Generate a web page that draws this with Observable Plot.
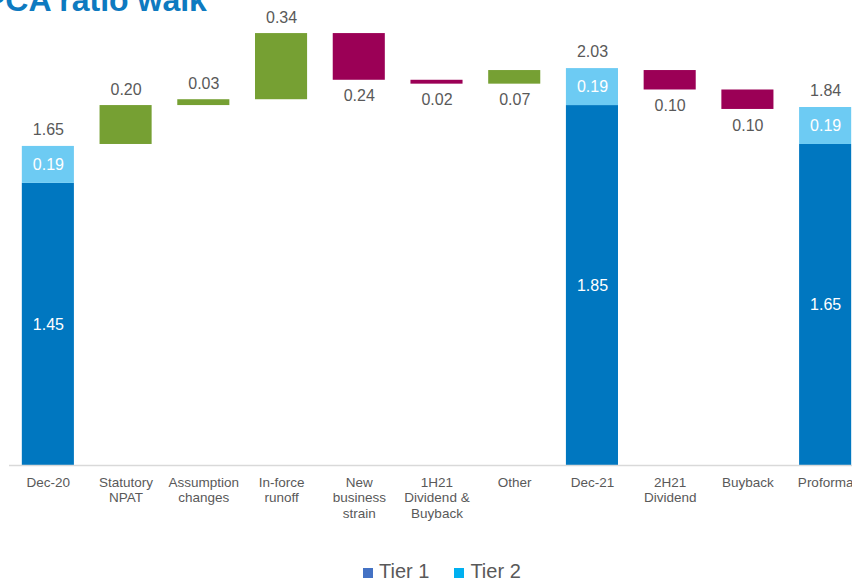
<!DOCTYPE html>
<html><head><meta charset="utf-8">
<script src="https://cdn.jsdelivr.net/npm/d3@7"></script>
<script src="https://cdn.jsdelivr.net/npm/@observablehq/plot@0.6"></script>
<style>
html,body{margin:0;padding:0;background:#fff;overflow:hidden;width:852px;height:583px;}
#wrap{position:relative;width:852px;height:583px;overflow:hidden;font-family:"Liberation Sans",Arial,sans-serif;}
#title{position:absolute;left:-16px;top:-16px;font-size:32px;font-weight:bold;color:#0E7AC0;white-space:nowrap;line-height:32px;z-index:2;}
#chart{position:absolute;left:0;top:0;}
#legend{position:absolute;top:560px;left:363px;display:flex;align-items:center;font-size:20px;line-height:23px;color:#595959;white-space:nowrap;}
#legend .item{display:flex;align-items:center;margin-right:25px;}
#legend .sw{width:10px;height:10px;margin-right:6px;margin-top:2px;}
</style>
</head><body>
<div id="wrap">
  <div id="title">PCA ratio walk</div>
  <div id="chart"></div>
  <div id="legend"></div>
</div>
<script>
const categories = ["Dec-20","Statutory NPAT","Assumption changes","In-force runoff","New business strain","1H21 Dividend & Buyback","Other","Dec-21","2H21 Dividend","Buyback","Proforma"];
const tickLabels = ["Dec-20","Statutory\nNPAT","Assumption\nchanges","In-force\nrunoff","New\nbusiness\nstrain","1H21\nDividend &\nBuyback","Other","Dec-21","2H21\nDividend","Buyback","Proforma"];
const totalCategories = ["Dec-20","Dec-21","Proforma"];
const tier1Values = [1.45, 1.85, 1.65];
const tier2Values = [0.19, 0.19, 0.19];
const totalValues = [1.65, 2.03, 1.84];
const stepCategories = ["Statutory NPAT","Assumption changes","In-force runoff","New business strain","1H21 Dividend & Buyback","Other","2H21 Dividend","Buyback"];
const stepValues = [0.20, 0.03, 0.34, -0.24, -0.02, 0.07, -0.10, -0.10];
const seriesNames = ["Tier 1","Tier 2","Increase","Decrease"];
const seriesColors = ["#0077C0","#6DCBF3","#76A033","#9B0056"];
const legendNames = ["Tier 1","Tier 2"];
const legendColors = ["#4472C4","#00B0F0"];

// build waterfall rows
const bars = [];
const insideLabels = [];
const topLabels = [];
const stepLabels = [];
let level = 0;
for (const cat of categories) {
  const ti = totalCategories.indexOf(cat);
  if (ti >= 0) {
    const t1 = tier1Values[ti], t2 = tier2Values[ti];
    bars.push({cat, series: "Tier 1", y1: 0, y2: t1});
    bars.push({cat, series: "Tier 2", y1: t1, y2: t1 + t2});
    insideLabels.push({cat, y: t1 / 2, text: t1.toFixed(2)});
    insideLabels.push({cat, y: t1 + t2 / 2, text: t2.toFixed(2)});
    topLabels.push({cat, y: t1 + t2, text: totalValues[ti].toFixed(2)});
    level = totalValues[ti];
  } else {
    const v = stepValues[stepCategories.indexOf(cat)];
    const y1 = level, y2 = level + v;
    bars.push({cat, series: v >= 0 ? "Increase" : "Decrease", y1, y2});
    const above = v > 0 && cat !== "Other";
    stepLabels.push({cat, y: above ? Math.max(y1, y2) : Math.min(y1, y2), above, text: Math.abs(v).toFixed(2)});
    level = y2;
  }
}

const font = "Liberation Sans, Arial, sans-serif";
const chart = Plot.plot({
  width: 864,
  height: 530,
  marginTop: 0,
  marginBottom: 65,
  marginLeft: 9,
  marginRight: 0,
  style: {fontFamily: font, fontSize: "14px", color: "#595959", background: "white", maxWidth: "none", overflow: "visible"},
  x: {domain: categories, paddingInner: 0.33, paddingOuter: 0.165, round: false, label: null, axis: null},
  y: {domain: [0, 2.39], axis: null},
  color: {domain: seriesNames, range: seriesColors},
  marks: [
    Plot.barY(bars, {x: "cat", y1: "y1", y2: "y2", fill: "series"}),
    Plot.ruleY([0], {stroke: "#D9D9D9", strokeWidth: 1.5}),
    Plot.axisX({tickSize: 0, tickPadding: 10, fontSize: 13.5, lineHeight: 1.15, fill: "#595959",
      tickFormat: d => tickLabels[categories.indexOf(d)], label: null}),
    Plot.text(insideLabels, {x: "cat", y: "y", text: "text", fill: "white", fontSize: 16}),
    Plot.text(topLabels, {x: "cat", y: "y", text: "text", fill: "#595959", fontSize: 16, dy: -17}),
    Plot.text(stepLabels.filter(d => d.above), {x: "cat", y: "y", text: "text", fill: "#595959", fontSize: 16, dy: -16}),
    Plot.text(stepLabels.filter(d => !d.above), {x: "cat", y: "y", text: "text", fill: "#595959", fontSize: 16, dy: 16})
  ]
});
document.getElementById("chart").appendChild(chart);

const legend = document.getElementById("legend");
legendNames.forEach((name, i) => {
  const item = document.createElement("div");
  item.className = "item";
  const sw = document.createElement("span");
  sw.className = "sw";
  sw.style.background = legendColors[i];
  const label = document.createElement("span");
  label.textContent = name;
  item.appendChild(sw);
  item.appendChild(label);
  legend.appendChild(item);
});
</script>
</body></html>
